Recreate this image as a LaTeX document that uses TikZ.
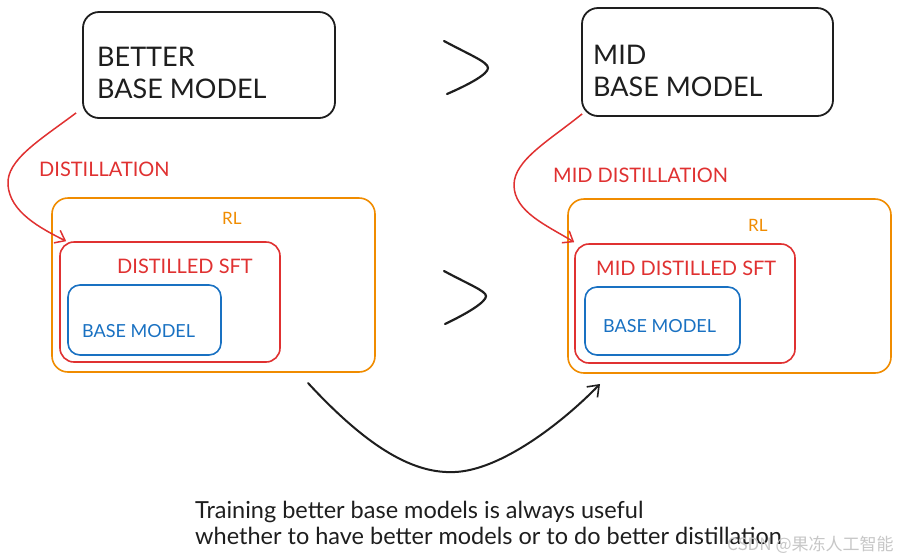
\documentclass[tikz,border=0pt]{standalone}
\usepackage{fontspec}
\setmainfont{Lato}
\newfontfamily\cjkfont{Noto Sans CJK SC}
\usetikzlibrary{arrows.meta,calc}
\definecolor{inkblack}{HTML}{1E1E1E}
\definecolor{inkred}{HTML}{E03131}
\definecolor{inkorange}{HTML}{F08C00}
\definecolor{inkblue}{HTML}{1971C2}
\tikzset{
  blackbox/.style={draw=inkblack, line width=1.8pt, rounded corners=16pt, inner sep=0},
  rlbox/.style={draw=inkorange, line width=1.6pt, rounded corners=16pt, inner sep=0},
  sftbox/.style={draw=inkred, line width=1.6pt, rounded corners=14pt, inner sep=0},
  basebox/.style={draw=inkblue, line width=1.6pt, rounded corners=12pt, inner sep=0},
  bigtxt/.style={inner sep=0, anchor=base west, text=inkblack, font=\fontsize{27}{27}\selectfont},
  captxt/.style={inner sep=0, anchor=base west, font=\fontsize{20}{20}\selectfont},
  bluetxt/.style={inner sep=0, anchor=base west, text=inkblue, font=\fontsize{18}{18}\selectfont},
  rltxt/.style={inner sep=0, anchor=base west, text=inkorange, font=\fontsize{17}{17}\selectfont},
  note/.style={inner sep=0, anchor=base west, text=inkblack, font=\fontsize{23.5}{23.5}\selectfont},
  redarrow/.style={draw=inkred, line width=1.5pt, -{Straight Barb[length=9pt,width=14pt,line width=1.5pt]}},
  blackarrow/.style={draw=inkblack, line width=2pt, line cap=round, -{Straight Barb[length=10pt,width=15pt,line width=1.6pt]}},
  gt/.style={draw=inkblack, line width=2.2pt, line cap=round, line join=round}
}
\begin{document}
\begin{tikzpicture}[x=1pt,y=-1pt]
\useasboundingbox (0,0) rectangle (900,558);
\fill[white] (0,0) rectangle (900,558);

% top boxes
\node[blackbox, minimum width=252, minimum height=106] (b1) at (209,65) {};
\node[bigtxt] (b1t1) at (97,66) {BETTER};
\node[bigtxt] (b1t2) at (97,98) {BASE MODEL};

\node[blackbox, minimum width=251, minimum height=108] (b2) at (707.5,62) {};
\node[bigtxt] (b2t1) at (593,64) {MID};
\node[bigtxt] (b2t2) at (593,96) {BASE MODEL};

% greater-than signs
\draw[gt] (444,41) .. controls (470,55) and (488,62) .. (488,68) .. controls (488,74) and (470,84) .. (447,94);
\draw[gt] (444,271) .. controls (468,284) and (486,291) .. (486,296) .. controls (486,302) and (468,313) .. (445,324);

% left group
\node[rlbox, minimum width=323, minimum height=174] (rl1) at (213.5,285) {};
\node[rltxt] (rl1t) at (222,224) {RL};
\node[sftbox, minimum width=220, minimum height=120] (sft1) at (170,302) {};
\node[captxt, text=inkred] (sft1t) at (117,273) {DISTILLED SFT};
\node[basebox, minimum width=153, minimum height=70] (base1) at (144.5,320) {};
\node[bluetxt] (base1t) at (82,337) {BASE MODEL};

% right group
\node[rlbox, minimum width=323, minimum height=174] (rl2) at (729.5,286) {};
\node[rltxt] (rl2t) at (748,231) {RL};
\node[sftbox, minimum width=220, minimum height=119] (sft2) at (685,303.5) {};
\node[captxt, text=inkred] (sft2t) at (596,275) {MID DISTILLED SFT};
\node[basebox, minimum width=155, minimum height=68] (base2) at (662.5,321) {};
\node[bluetxt] (base2t) at (603,332) {BASE MODEL};

% distillation arrows
\node[captxt, text=inkred] (d1) at (39,176) {DISTILLATION};
\draw[redarrow] ([shift={(-6,-6)}]b1.south west) .. controls (40,140) and (6,160) .. (8,185) .. controls (10,212) and (40,228) .. ([shift={(7,0)}]sft1.north west);

\node[captxt, text=inkred] (d2) at (553,182) {MID DISTILLATION};
\draw[redarrow] ([shift={(1,-3)}]b2.south west) .. controls (550,140) and (514,160) .. (514,185) .. controls (514,212) and (548,226) .. ([shift={(0,-1)}]sft2.north west);

% bottom arrow
\coordinate (cstart) at (308,383);
\coordinate (cend) at (600,384);
\draw[blackarrow] (cstart) .. controls (370,450) and (415,474) .. (455,472) .. controls (500,470) and (560,425) .. (cend);

% note
\node[note] (n1) at (195,518) {Training better base models is always useful};
\node[note] (n2) at (195,544) {whether to have better models or to do better distillation};

% watermark
\node[inner sep=0, anchor=base west, text=black!22, font=\cjkfont\fontsize{17}{17}\selectfont] (wm) at (727,550) {CSDN @果冻人工智能};
\end{tikzpicture}
\end{document}
